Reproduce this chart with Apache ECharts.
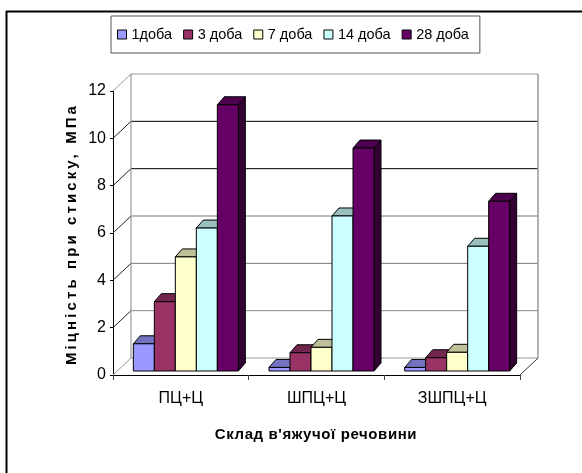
<!DOCTYPE html>
<html>
<head>
<meta charset="utf-8">
<style>html,body{margin:0;padding:0;background:#fff}#c{width:582px;height:473px}</style>
<script src="https://cdn.jsdelivr.net/npm/echarts@6/dist/echarts.min.js"></script>
</head>
<body>
<div id="c"></div>
<script>
// Compressive strength by binder composition and curing age
const categories = ['ПЦ+Ц', 'ШПЦ+Ц', 'ЗШПЦ+Ц'];
const ages = ['1доба', '3 доба', '7 доба', '14 доба', '28 доба'];
const day1 = [1.15, 0.15, 0.15];
const day3 = [2.93, 0.77, 0.56];
const day7 = [4.82, 1.0, 0.79];
const day14 = [6.04, 6.55, 5.27];
const day28 = [11.25, 9.42, 7.17];
const yTicks = [0, 2, 4, 6, 8, 10, 12];
const yTitle = 'Міцність при стиску, МПа';
const xTitle = "Склад в'яжучої речовини";

// Face, top and side shades of each bar series
const shades = [
  ['#9999FF', '#7373BF', '#4D4D80'],
  ['#993366', '#73264D', '#4D1933'],
  ['#FFFFCC', '#BFBF99', '#808066'],
  ['#CCFFFF', '#99BFBF', '#668080'],
  ['#660066', '#4D004D', '#330033']
];
const wallLine = {10: '#000', 8: '#000', 6: '#777', 4: '#777', 2: '#888', 0: '#999', 12: '#999'};
const sans = '"Liberation Sans",Arial,sans-serif';

// Pseudo-3D depth of the plot box and of the bars, in pixels
const WALL_DX = 18, WALL_DY = 17;
const BAR_DX = 7, BAR_DY = 8, BAR_SHIFT_X = 5, BAR_SHIFT_Y = 4, BAR_W = 21;

function renderWall(params, api) {
  const v = api.value(0);
  const cs = params.coordSys;
  const y = api.coord([0, v])[1];
  const x0 = cs.x, x1 = cs.x + cs.width;
  const color = wallLine[v];
  const line = (a, b, c, d, col, w) => ({
    type: 'line',
    shape: {x1: a, y1: b, x2: c, y2: d},
    style: {stroke: col, lineWidth: w || 1}
  });
  const children = [
    line(x0 + WALL_DX, y - WALL_DY, x1 + WALL_DX, y - WALL_DY, color, 1),
    line(x0, y, x0 + WALL_DX, y - WALL_DY, v === 0 || v === 12 ? '#999' : '#222', 1)
  ];
  if (v === 12) {
    const yb = api.coord([0, 0])[1];
    children.push(line(x0 + WALL_DX, y - WALL_DY, x0 + WALL_DX, yb - WALL_DY, '#999', 1.2));
    children.push(line(x1 + WALL_DX, y - WALL_DY, x1 + WALL_DX, yb - WALL_DY, '#999', 1.5));
    children.push(line(x1, yb, x1 + WALL_DX, yb - WALL_DY, '#333', 1));
  }
  return {type: 'group', children};
}

function barRenderer(index) {
  return function (params, api) {
    const pTop = api.coord([api.value(0), api.value(1)]);
    const pBase = api.coord([api.value(0), 0]);
    const x = pTop[0] + BAR_SHIFT_X + (index - 2.5) * BAR_W;
    const yT = pTop[1] - BAR_SHIFT_Y;
    const yB = pBase[1] - BAR_SHIFT_Y;
    const r = x + BAR_W;
    const s = shades[index];
    const edge = {stroke: '#000', lineWidth: 1, lineJoin: 'round'};
    const poly = (points, fill) => ({
      type: 'polygon',
      shape: {points},
      style: Object.assign({fill}, edge)
    });
    return {
      type: 'group',
      children: [
        poly([[r, yT], [r + BAR_DX, yT - BAR_DY], [r + BAR_DX, yB - BAR_DY], [r, yB]], s[2]),
        poly([[x, yT], [x + BAR_DX, yT - BAR_DY], [r + BAR_DX, yT - BAR_DY], [r, yT]], s[1]),
        poly([[x, yT], [r, yT], [r, yB], [x, yB]], s[0])
      ]
    };
  };
}

const seriesValues = [day1, day3, day7, day14, day28];
const chart = echarts.init(document.getElementById('c'), null, {renderer: 'canvas'});

chart.setOption({
  animation: false,
  backgroundColor: '#fff',
  grid: {left: 113, right: 62, top: 91, bottom: 98},
  legend: {
    left: 111,
    top: 16,
    data: ages,
    icon: 'rect',
    itemWidth: 9,
    itemHeight: 9,
    itemGap: 11,
    padding: [11, 11, 11, 6],
    borderColor: '#555',
    borderWidth: 1,
    backgroundColor: '#fff',
    selectedMode: false,
    itemStyle: {borderColor: '#000', borderWidth: 1},
    textStyle: {fontFamily: sans, fontSize: 14.5, color: '#000'}
  },
  xAxis: {
    type: 'category',
    data: categories,
    axisLine: {lineStyle: {color: '#000', width: 1}},
    axisTick: {show: true, length: 5, lineStyle: {color: '#444'}},
    axisLabel: {fontFamily: sans, fontSize: 16, color: '#000', margin: 16},
    splitLine: {show: false}
  },
  yAxis: {
    type: 'value',
    min: 0,
    max: 12,
    interval: 2,
    axisLine: {show: true, lineStyle: {color: '#000', width: 1}},
    axisTick: {show: true, length: 3, lineStyle: {color: '#000'}},
    axisLabel: {fontFamily: sans, fontSize: 16, color: '#000', margin: 7},
    splitLine: {show: false}
  },
  graphic: [
    {type: 'line', shape: {x1: 6, y1: 11.5, x2: 582, y2: 11.5}, style: {stroke: '#000', lineWidth: 2}, z: 0},
    {type: 'line', shape: {x1: 6.5, y1: 11, x2: 6.5, y2: 473}, style: {stroke: '#000', lineWidth: 2}, z: 0},
    {
      type: 'text', id: 'yTitle', zlevel: 1, x: 72, y: 234, rotation: Math.PI / 2,
      style: {text: yTitle, font: 'bold 15px ' + sans, fill: '#000', textAlign: 'center', textVerticalAlign: 'middle'}
    },
    {
      type: 'text', id: 'xTitle', zlevel: 2, x: 316, y: 435,
      style: {text: xTitle, font: 'bold 15px ' + sans, fill: '#000', textAlign: 'center', textVerticalAlign: 'middle'}
    }
  ],
  series: [
    {
      type: 'custom',
      name: 'wall',
      silent: true,
      z: 1,
      renderItem: renderWall,
      data: yTicks.map(v => [v]),
      encode: {y: 0}
    }
  ].concat(ages.map((name, i) => ({
    type: 'custom',
    name,
    silent: true,
    z: 2 + i,
    itemStyle: {color: shades[i][0]},
    renderItem: barRenderer(i),
    data: categories.map((c, k) => [k, seriesValues[i][k]]),
    encode: {x: 0, y: 1}
  })))
});

// Axis titles are tracked out; each sits on its own canvas layer
const painter = chart.getZr().painter;
const tracking = {1: '3.1px', 2: '0.6px'};
Object.keys(tracking).forEach(level => {
  const layer = painter.getLayer(+level);
  if (layer && layer.ctx) layer.ctx.letterSpacing = tracking[level];
});
painter.refresh(true);
</script>
</body>
</html>
